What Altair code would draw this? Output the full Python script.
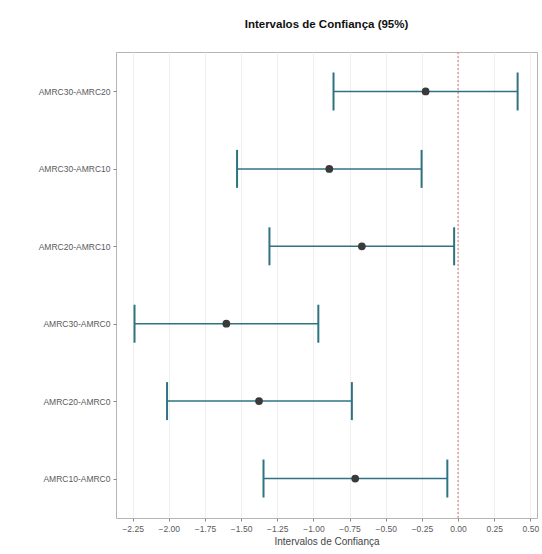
import altair as alt
import pandas as pd

# Pairwise comparisons with 95% confidence intervals
comparisons = ["AMRC30-AMRC20", "AMRC30-AMRC10", "AMRC20-AMRC10",
               "AMRC30-AMRC0", "AMRC20-AMRC0", "AMRC10-AMRC0"]
estimate = [-0.224, -0.890, -0.665, -1.602, -1.376, -0.711]
lower = [-0.861, -1.528, -1.304, -2.237, -2.012, -1.345]
upper = [0.412, -0.252, -0.027, -0.966, -0.734, -0.074]
x_ticks = [-2.25, -2.0, -1.75, -1.5, -1.25, -1.0, -0.75, -0.5, -0.25, 0.0, 0.25, 0.5]

df = pd.DataFrame({"comp": comparisons, "est": estimate, "lo": lower, "hi": upper})

FONT = "Liberation Sans"
TEAL = "#2f7383"

x_scale = alt.Scale(domain=[-2.365, 0.546], nice=False, zero=False)
y_scale = alt.Scale(type="point", domain=comparisons, padding=0.51)

x_axis = alt.Axis(values=x_ticks, format=".2f", title="Intervalos de Confiança",
                  labelFontSize=8.5, labelColor="#5a5a5a", titleFontSize=10,
                  titleFontWeight="normal", titleColor="#444444", titlePadding=4,
                  tickColor="#888888", tickSize=3, domain=False, labelOverlap=False,
                  gridColor="#efefef", labelPadding=3, labelFont=FONT, titleFont=FONT)
y_axis = alt.Axis(title=None, labelFontSize=8.5, labelColor="#5a5a5a",
                  tickColor="#888888", tickSize=3, domain=False, labelOverlap=False,
                  gridColor="#efefef", labelPadding=3, labelFont=FONT)

base = alt.Chart(df)

# dashed reference line at zero (carries the shared x axis)
zero_line = alt.Chart(pd.DataFrame({"z": [0.0]})).mark_rule(
    color="#e07070", strokeDash=[2, 2], strokeWidth=1
).encode(x=alt.X("z:Q", scale=x_scale, axis=x_axis))

bars = base.mark_rule(color=TEAL, strokeWidth=1.5).encode(
    x=alt.X("lo:Q", scale=x_scale, axis=x_axis),
    x2="hi:Q",
    y=alt.Y("comp:N", scale=y_scale, axis=y_axis, sort=comparisons),
)

cap_lo = base.mark_tick(color=TEAL, orient="vertical", size=38, thickness=2, opacity=1).encode(
    x=alt.X("lo:Q", scale=x_scale, axis=x_axis),
    y=alt.Y("comp:N", scale=y_scale, axis=y_axis, sort=comparisons),
)
cap_hi = base.mark_tick(color=TEAL, orient="vertical", size=38, thickness=2, opacity=1).encode(
    x=alt.X("hi:Q", scale=x_scale, axis=x_axis),
    y=alt.Y("comp:N", scale=y_scale, axis=y_axis, sort=comparisons),
)

points = base.mark_circle(color="#3a3a3a", size=60, opacity=1).encode(
    x=alt.X("est:Q", scale=x_scale, axis=x_axis),
    y=alt.Y("comp:N", scale=y_scale, axis=y_axis, sort=comparisons),
)

chart = (
    alt.layer(zero_line, bars, cap_lo, cap_hi, points)
    .properties(
        width=421,
        height=466,
        autosize=alt.AutoSizeParams(type="none"),
        padding={"left": 116, "top": 52, "right": 5, "bottom": 36},
        title=alt.Title("Intervalos de Confiança (95%)", fontSize=11.5, fontWeight="bold",
                        font=FONT, color="#111111", anchor="middle", offset=21),
        background="white",
    )
    .configure_view(stroke="#b5b5b5", strokeWidth=1)
)

chart.save("out.html", embed_options={"renderer": "svg", "actions": False})
